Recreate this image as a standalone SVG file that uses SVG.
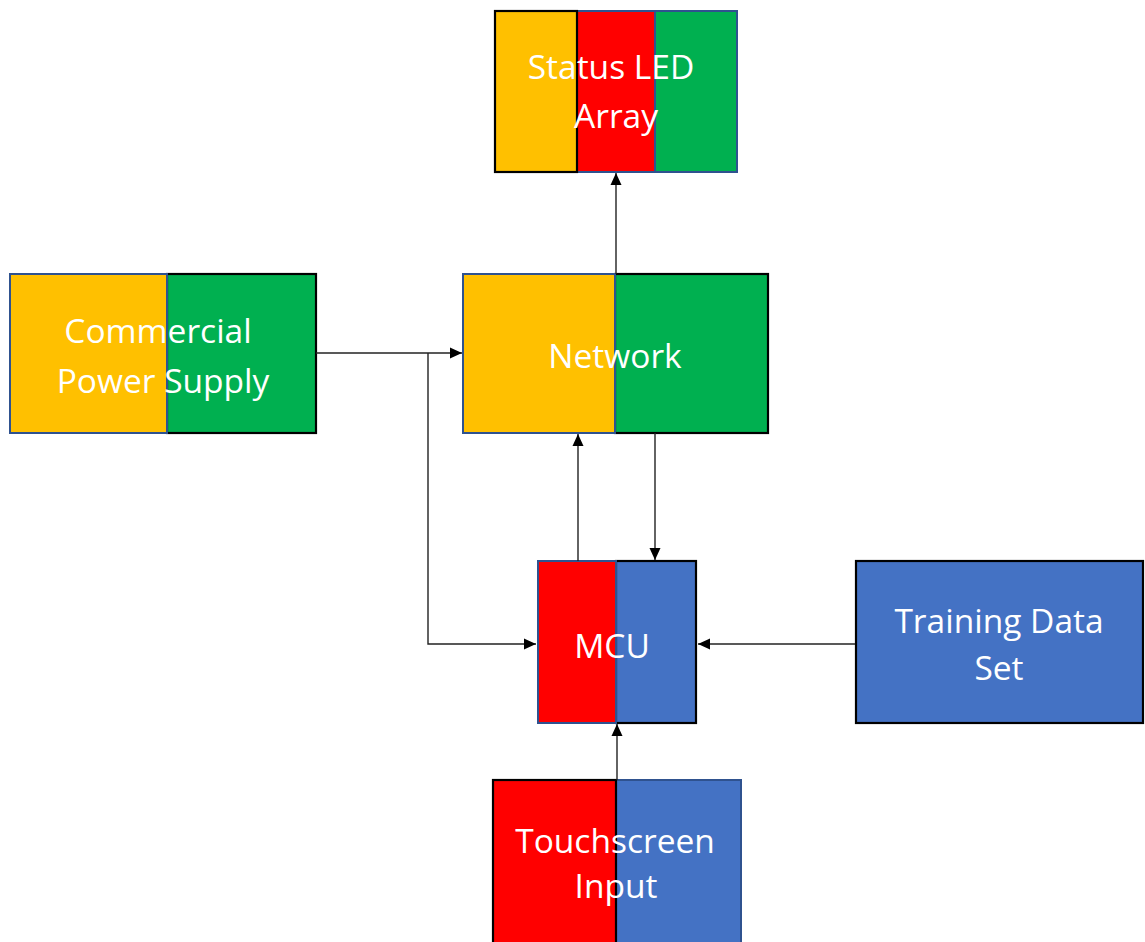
<svg xmlns="http://www.w3.org/2000/svg" width="1145" height="942" viewBox="0 0 1145 942">
  <defs>
    <marker id="arrow" viewBox="0 0 12 12" refX="12" refY="6" markerWidth="12" markerHeight="12" markerUnits="userSpaceOnUse" orient="auto">
      <path d="M0,0.5 L12,6 L0,11.5 Z" fill="#000"/>
    </marker>
  </defs>
  <style>
    .orange { fill: #FFC000; }
    .green { fill: #00B050; }
    .red { fill: #FF0000; }
    .blue { fill: #4472C4; }
    .navy { stroke: #2F528F; stroke-width: 2; }
    .dark { stroke: #000; stroke-width: 2.2; }
    .label { font-family: "Open Sans", "Liberation Sans", sans-serif; font-size: 33.5px; fill: #fff; text-anchor: middle; }
    .wire { fill: none; stroke: #222; stroke-width: 1.4; }
  </style>
  <rect width="1145" height="942" fill="#fff"/>

  <g id="status-led-array">
    <rect class="red navy" x="577" y="11" width="78" height="161"/>
    <rect class="green navy" x="655" y="11" width="82" height="161"/>
    <rect class="orange dark" x="495" y="11" width="82" height="161"/>
    <text class="label" x="611" y="79">Status LED</text>
    <text class="label" x="616" y="128">Array</text>
  </g>

  <g id="commercial-power-supply">
    <rect class="green dark" x="167" y="274" width="149" height="159"/>
    <rect class="orange navy" x="10" y="274" width="157" height="159"/>
    <text class="label" x="158" y="343">Commercial</text>
    <text class="label" x="163" y="393">Power Supply</text>
  </g>

  <g id="network">
    <rect class="green dark" x="615" y="274" width="153" height="159"/>
    <rect class="orange navy" x="463" y="274" width="152" height="159"/>
    <text class="label" x="615" y="368">Network</text>
  </g>

  <g id="mcu">
    <rect class="blue dark" x="616" y="561" width="80" height="162"/>
    <rect class="red navy" x="538" y="561" width="78" height="162"/>
    <text class="label" x="612" y="658">MCU</text>
  </g>

  <g id="training-data-set">
    <rect class="blue dark" x="856" y="561" width="287" height="162"/>
    <text class="label" x="999" y="633">Training Data</text>
    <text class="label" x="999" y="680">Set</text>
  </g>

  <g id="touchscreen-input">
    <rect class="blue navy" x="616" y="780" width="125" height="170"/>
    <rect class="red dark" x="493" y="780" width="123" height="170"/>
    <text class="label" x="615" y="853">Touchscreen</text>
    <text class="label" x="616" y="898">Input</text>
  </g>

  <g id="connectors">
    <path class="wire" d="M616,274 V173" marker-end="url(#arrow)"/>
    <path class="wire" d="M316,353 H462" marker-end="url(#arrow)"/>
    <path class="wire" d="M428,353 V644 H536" marker-end="url(#arrow)"/>
    <path class="wire" d="M578,561 V434" marker-end="url(#arrow)"/>
    <path class="wire" d="M655,433 V560" marker-end="url(#arrow)"/>
    <path class="wire" d="M855,644 H698" marker-end="url(#arrow)"/>
    <path class="wire" d="M617,780 V724" marker-end="url(#arrow)"/>
  </g>
</svg>
